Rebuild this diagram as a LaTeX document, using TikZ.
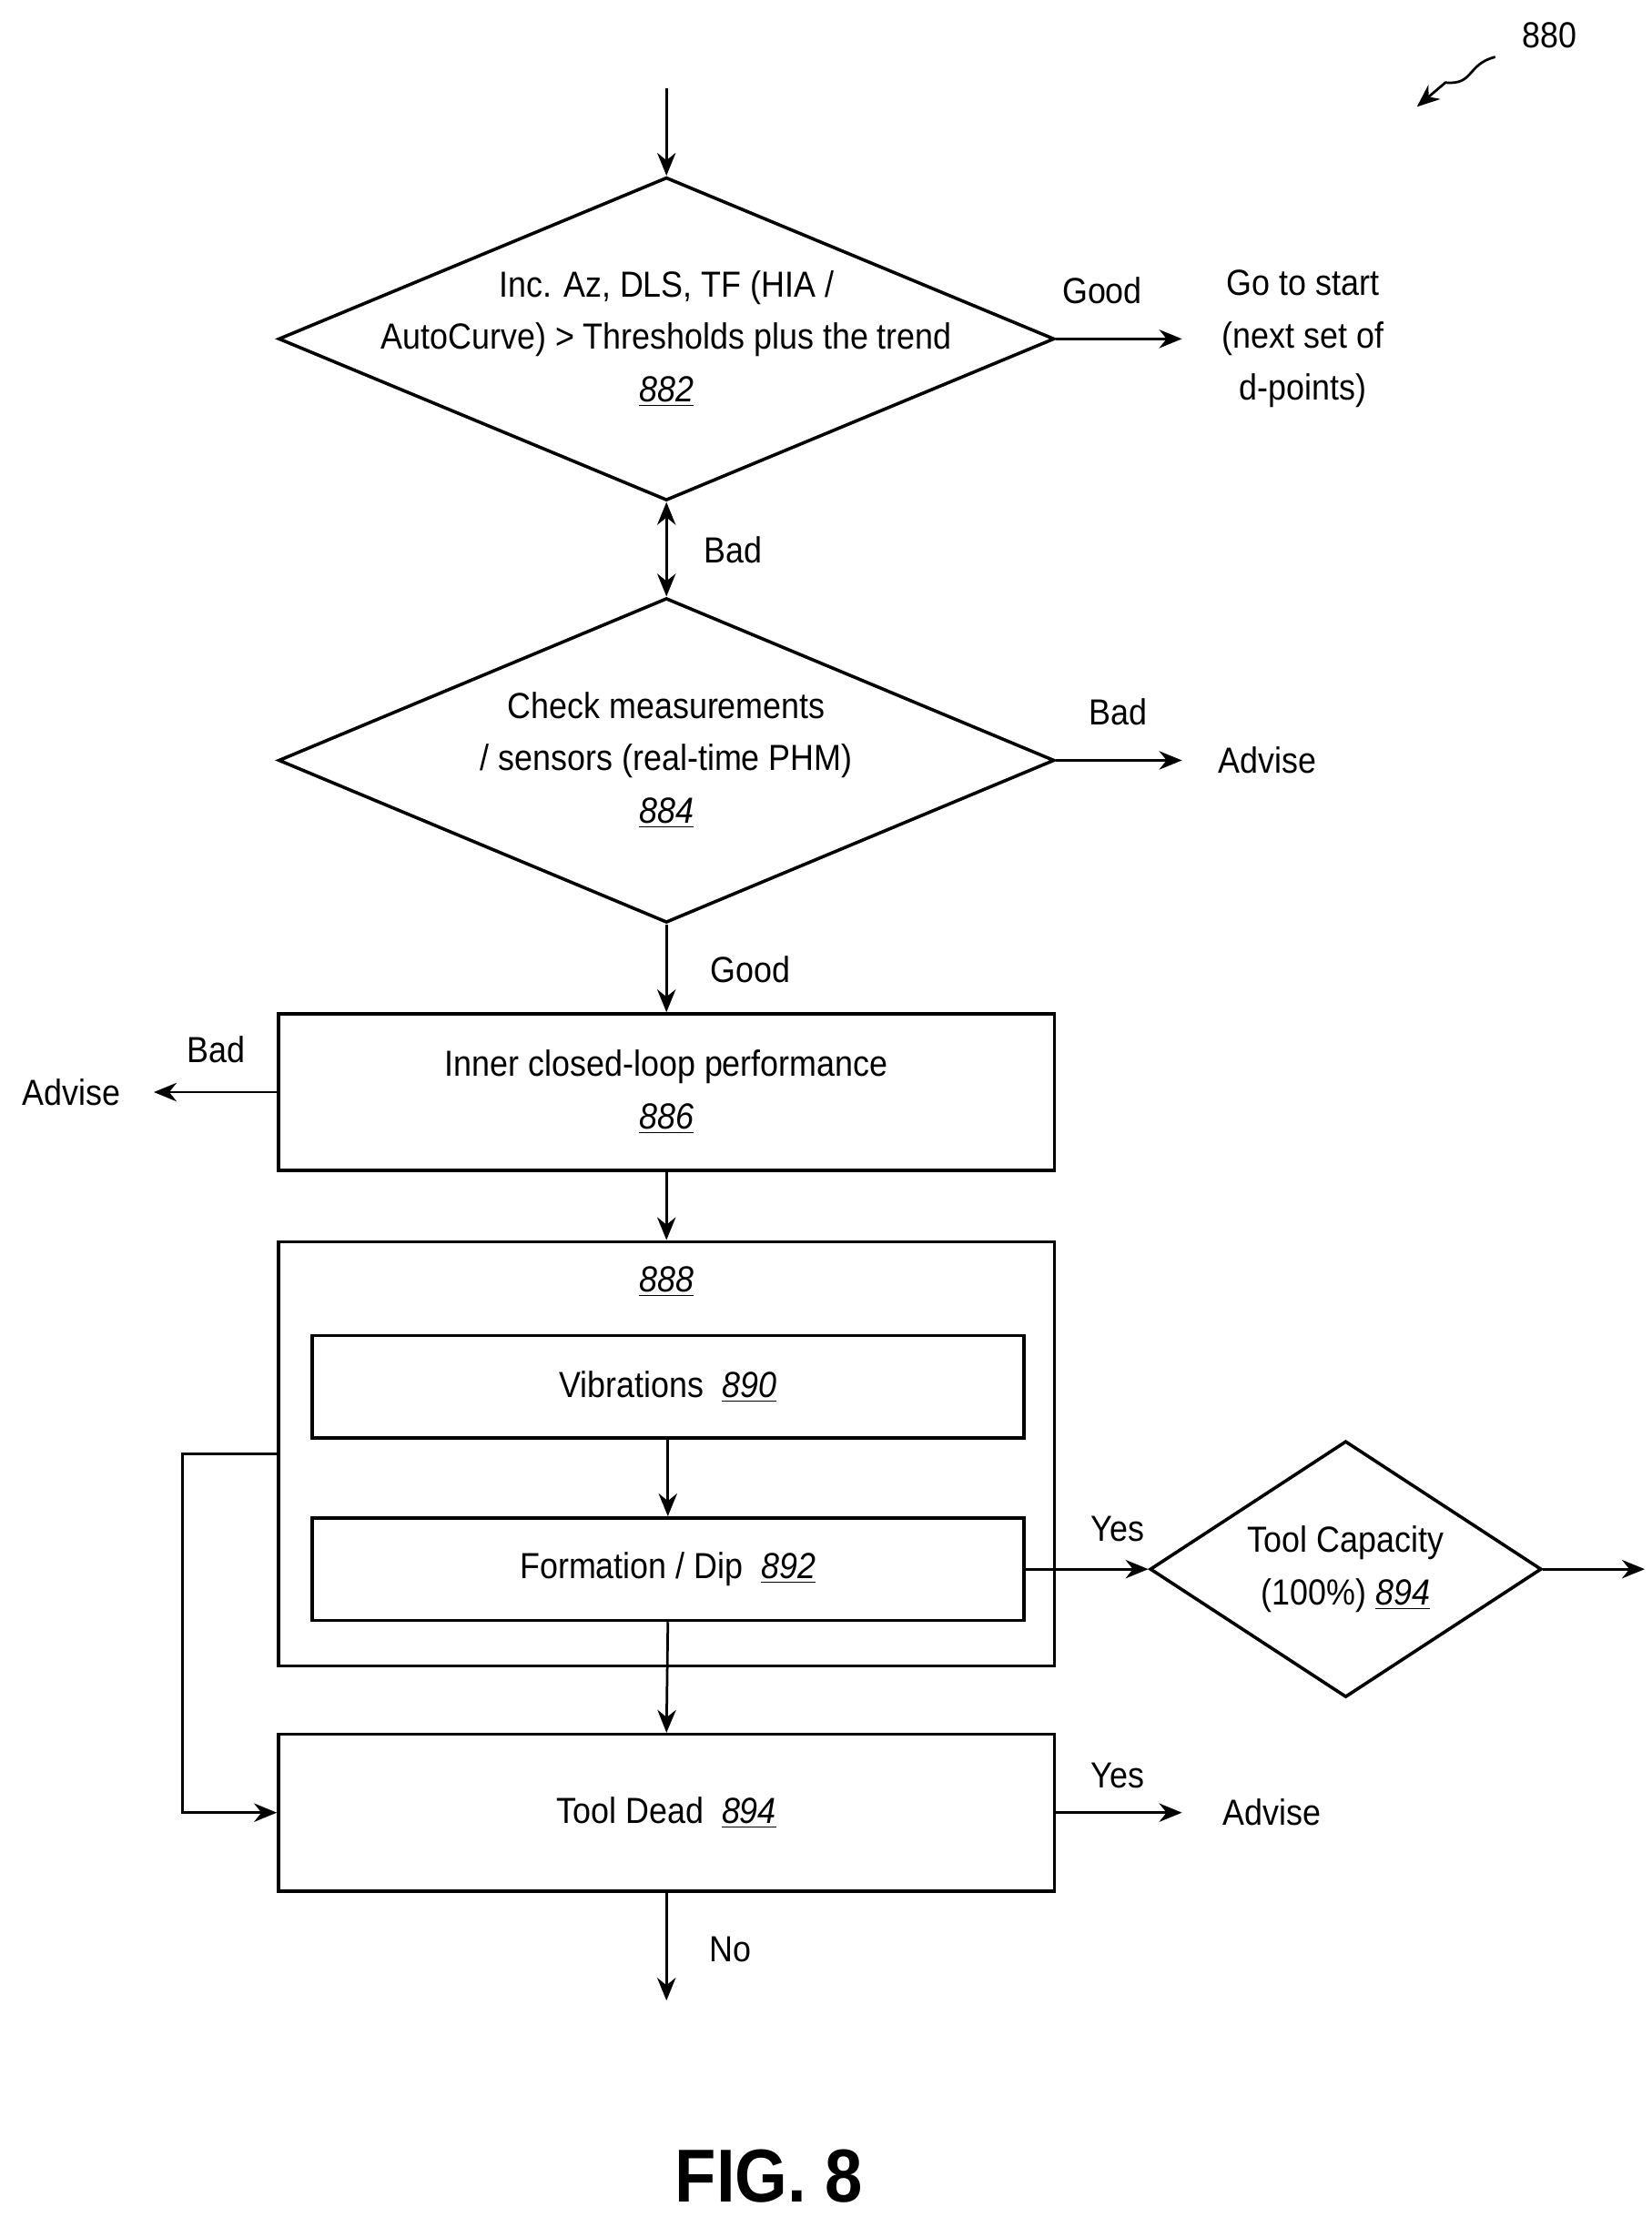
\documentclass[tikz,border=0pt]{standalone}
\usepackage{fontspec}
\setmainfont{Liberation Sans}[FakeStretch=0.9]
\usetikzlibrary{calc,shapes.geometric,arrows.meta}
\newcommand{\refnum}[1]{\underline{\textit{#1}}}
\begin{document}
\begin{tikzpicture}[x=0.02cm,y=-0.02cm,font=\fontsize{14.5}{21}\selectfont,
  >={Stealth[length=3.2mm,width=2.6mm]},
  box/.style={rectangle, draw, line width=1.3pt, minimum width=10.9cm, align=center},
  dia/.style={diamond, draw, line width=1.3pt, inner sep=0pt},
  flow/.style={->, line width=1pt}]
\useasboundingbox (0,0) rectangle (1160,1557);

% decisions and blocks
\node (q1) [dia, minimum width=10.9cm, minimum height=4.54cm] at (468,238) {};
\node (q1txt) [align=center] at (q1) {Inc. Az, DLS, TF (HIA /\\AutoCurve) > Thresholds plus the trend\\\refnum{882}};
\node (q2) [dia, minimum width=10.9cm, minimum height=4.56cm] at (468,534) {};
\node (q2txt) [align=center] at (q2) {Check measurements\\/ sensors (real-time PHM)\\\refnum{884}};
\node (inner) [box, minimum height=2.2cm] at (468,767)
  {Inner closed-loop performance\\\refnum{886}};
\node (grp) [box, minimum height=5.96cm] at (468,1021) {};
\node (grplbl) at (468,900) {\refnum{888}};
\node (vib) [box, minimum width=10cm, minimum height=1.44cm] at (469,974)
  {Vibrations\ \ \refnum{890}};
\node (form) [box, minimum width=10cm, minimum height=1.44cm] at (469,1102)
  {Formation / Dip\ \ \refnum{892}};
\node (cap) [dia, minimum width=5.5cm, minimum height=3.6cm] at (945,1102) {};
\node (captxt) [align=center] at (cap) {Tool Capacity\\(100\%) \refnum{894}};
\node (dead) [box, minimum height=2.2cm] at (468,1273)
  {Tool Dead\ \ \refnum{894}};

% free ends
\coordinate (in) at (468,62);
\coordinate (gostart) at (830,238);
\coordinate (adv1) at (830,534);
\coordinate (adv2) at (108,767);
\coordinate (capout) at (1155,1102);
\coordinate (adv3) at (830,1273);
\coordinate (out) at (468,1405);
\coordinate (fb) at (128,1021);

% connectors
\draw [flow] (in) -- (q1.north);
\draw [flow] (q1.east) -- (gostart);
\draw [<->, line width=1pt] (q1.south) -- (q2.north);
\draw [flow] (q2.east) -- (adv1);
\draw [flow] (q2.south) -- (inner.north);
\draw [flow] (inner.west) -- (adv2);
\draw [flow] (inner.south) -- (grp.north);
\draw [flow] (vib.south) -- (form.north);
\draw [flow] (form.east) -- (cap.west);
\draw [flow] (cap.east) -- (capout);
\draw [flow] (form.south) -- (dead.north);
\draw [flow] (grp.west) -- (fb) |- (dead.west);
\draw [flow] (dead.east) -- (adv3);
\draw [flow] (dead.south) -- (out);

% labels
\node at (774,204) {Good};
\node [align=center] at (915,238) {Go to start\\(next set of\\d-points)};
\node at (515,386) {Bad};
\node at (785,500) {Bad};
\node at (890,534) {Advise};
\node at (527,681) {Good};
\node at (152,737) {Bad};
\node at (50,767) {Advise};
\node at (785,1074) {Yes};
\node at (785,1247) {Yes};
\node at (893,1273) {Advise};
\node at (513,1369) {No};
\node [font=\fontsize{30}{36}\selectfont\bfseries] at (540,1528) {FIG. 8};
\node at (1088,25) {880};
\draw [->, line width=1pt] (1050,40) .. controls (1030,45) and (1035,60) .. (1015,58) -- (995,75);
\end{tikzpicture}
\end{document}
